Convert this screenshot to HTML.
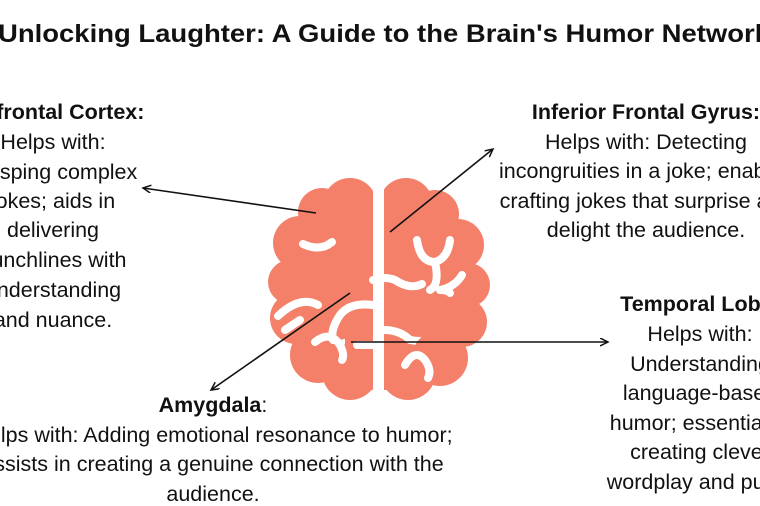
<!DOCTYPE html>
<html><head><meta charset="utf-8"><style>
html,body{margin:0;padding:0;background:#fff;}
svg{display:block;}
text{font-family:"Liberation Sans",sans-serif;fill:#111;}
</style></head><body>
<svg width="760" height="506" viewBox="0 0 760 506" xmlns="http://www.w3.org/2000/svg">
<defs>
<clipPath id="cl"><rect x="0" y="0" width="373" height="506"/></clipPath>
<clipPath id="cr"><rect x="384" y="0" width="400" height="506"/></clipPath>
<marker id="ah" markerWidth="10" markerHeight="10" refX="8" refY="4" orient="auto" markerUnits="userSpaceOnUse">
<path d="M0,0 L8,4 L0,8" fill="none" stroke="#111" stroke-width="1.5"/></marker>
</defs>
<text x="-2" y="42" font-size="25" font-weight="bold" textLength="772" lengthAdjust="spacingAndGlyphs">Unlocking Laughter: A Guide to the Brain's Humor Network</text>

<g fill="#F4806A">
<g clip-path="url(#cl)">
<circle cx="350" cy="205" r="27"/><circle cx="322" cy="212" r="24"/><circle cx="300" cy="243" r="27"/>
<circle cx="290" cy="282" r="22"/><circle cx="296" cy="318" r="26"/><circle cx="318" cy="355" r="28"/>
<circle cx="350" cy="372" r="28"/><circle cx="335" cy="295" r="45"/><circle cx="350" cy="250" r="35"/>
<rect x="345" y="200" width="30" height="190"/>
</g>
<g clip-path="url(#cr)">
<circle cx="406" cy="205" r="27"/><circle cx="435" cy="214" r="24"/><circle cx="458" cy="245" r="26"/>
<circle cx="468" cy="285" r="22"/><circle cx="462" cy="322" r="25"/><circle cx="440" cy="358" r="28"/>
<circle cx="408" cy="372" r="28"/><circle cx="420" cy="292" r="45"/><circle cx="410" cy="250" r="35"/>
<rect x="380" y="200" width="30" height="190"/>
</g>
</g>
<g fill="none" stroke="#fff" stroke-width="8" stroke-linecap="round">
<path d="M332,242 Q320,252 303,244"/><path d="M373,280 Q385,276 395,280 Q410,290 422,284"/>
<path d="M417,240 Q420,262 435,262 Q448,258 450,240"/><path d="M435,262 Q440,285 430,290"/>
<path d="M462,275 Q455,287 440,290"/><path d="M440,290 Q448,290 450,293"/>
<path d="M278,316 Q300,295 318,305"/><path d="M285,330 L300,320"/>
<path d="M373,305 Q350,302 340,315 Q330,330 333,340"/>
<path d="M315,342 Q330,330 340,345 Q345,355 342,360"/><path d="M357,345 L373,345"/>
<path d="M384,330 Q400,330 410,340"/><path d="M405,365 Q415,348 425,360 Q432,370 428,378"/>
</g>
<g stroke="#111" stroke-width="1.6" fill="none">
<line x1="316" y1="213" x2="143" y2="188" marker-end="url(#ah)"/>
<line x1="390" y1="232" x2="493" y2="149" marker-end="url(#ah)"/>
<line x1="350" y1="293" x2="211" y2="390" marker-end="url(#ah)"/>
<line x1="351" y1="342" x2="608" y2="342" marker-end="url(#ah)"/>
</g>

<g font-size="21.5" text-anchor="middle">
<text x="53" y="119" font-weight="bold">Prefrontal Cortex:</text>
<text x="53" y="149">Helps with:</text>
<text x="53" y="179">grasping complex</text>
<text x="53" y="208">jokes; aids in</text>
<text x="53" y="237">delivering</text>
<text x="53" y="267">punchlines with</text>
<text x="53" y="297">understanding</text>
<text x="53" y="327">and nuance.</text>

<text x="646" y="119" font-weight="bold">Inferior Frontal Gyrus:</text>
<text x="646" y="149">Helps with: Detecting</text>
<text x="646" y="178">incongruities in a joke; enables</text>
<text x="646" y="208">crafting jokes that surprise and</text>
<text x="646" y="237">delight the audience.</text>

<text x="700" y="311" font-weight="bold">Temporal Lobe:</text>
<text x="700" y="341">Helps with:</text>
<text x="700" y="371">Understanding</text>
<text x="700" y="400">language-based</text>
<text x="700" y="430">humor; essential in</text>
<text x="700" y="459">creating clever</text>
<text x="700" y="489">wordplay and puns.</text>

<text x="213" y="412"><tspan font-weight="bold">Amygdala</tspan>:</text>
<text x="213" y="442">Helps with: Adding emotional resonance to humor;</text>
<text x="213" y="471">assists in creating a genuine connection with the</text>
<text x="213" y="501">audience.</text>
</g>
</svg>
</body></html>
